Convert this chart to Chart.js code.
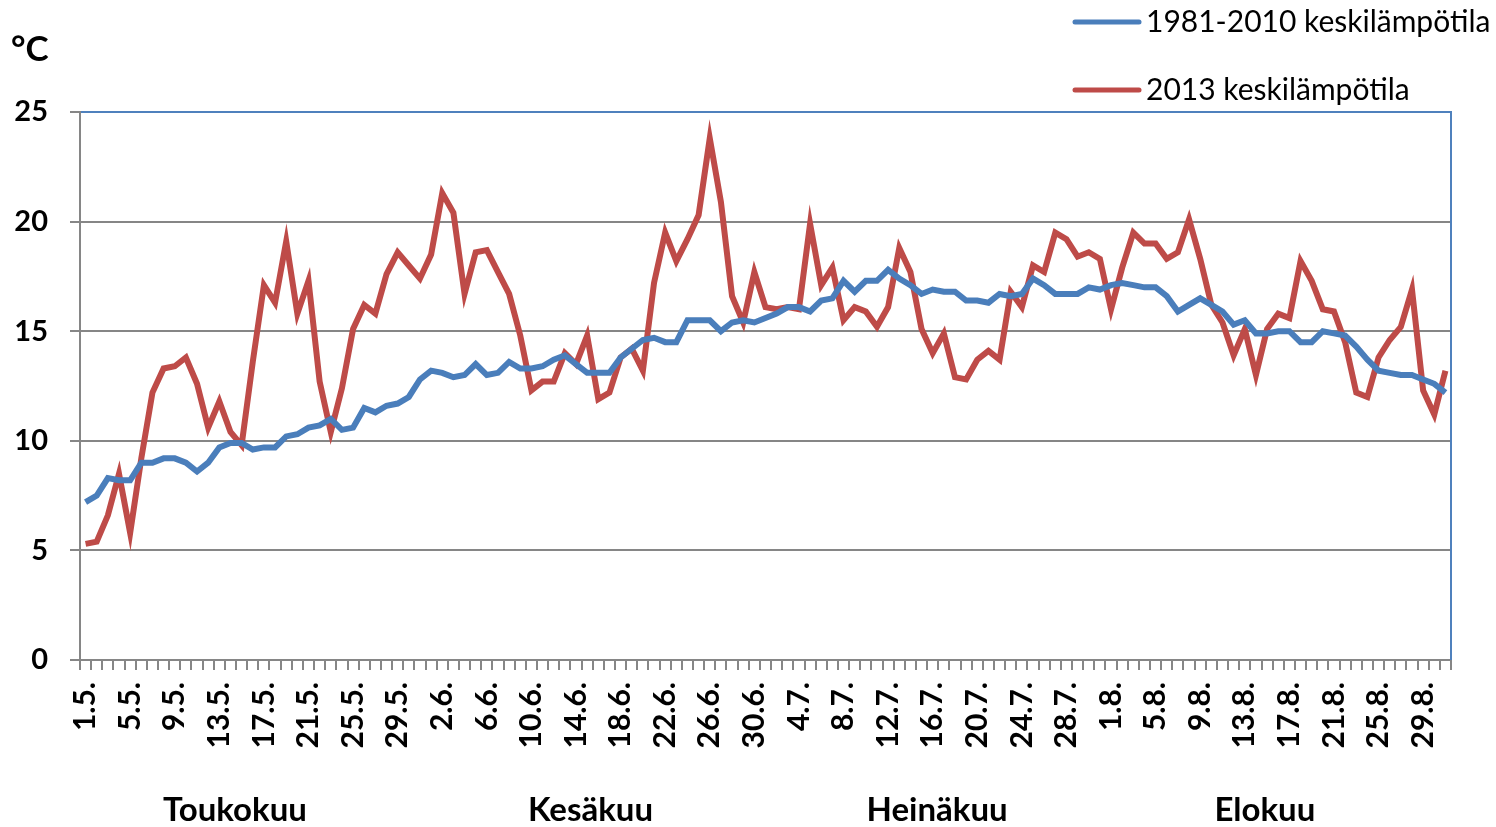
<!DOCTYPE html>
<html lang="fi">
<head>
<meta charset="UTF-8">
<title>Keskilämpötila touko-elokuu</title>
<script src="https://cdn.jsdelivr.net/npm/chart.js"></script>
<style>
  html, body { margin: 0; padding: 0; background: #fff; }
  #kehys { width: 1496px; height: 827px; position: relative; }
</style>
</head>
<body>
<div id="kehys"><canvas id="kaavio"></canvas></div>
<script>
// päivät 1.5. - 31.8.
const paivat = [
  '1.5.','2.5.','3.5.','4.5.','5.5.','6.5.','7.5.','8.5.','9.5.','10.5.','11.5.','12.5.','13.5.','14.5.','15.5.','16.5.',
  '17.5.','18.5.','19.5.','20.5.','21.5.','22.5.','23.5.','24.5.','25.5.','26.5.','27.5.','28.5.','29.5.','30.5.','31.5.',
  '1.6.','2.6.','3.6.','4.6.','5.6.','6.6.','7.6.','8.6.','9.6.','10.6.','11.6.','12.6.','13.6.','14.6.','15.6.',
  '16.6.','17.6.','18.6.','19.6.','20.6.','21.6.','22.6.','23.6.','24.6.','25.6.','26.6.','27.6.','28.6.','29.6.','30.6.',
  '1.7.','2.7.','3.7.','4.7.','5.7.','6.7.','7.7.','8.7.','9.7.','10.7.','11.7.','12.7.','13.7.','14.7.','15.7.','16.7.',
  '17.7.','18.7.','19.7.','20.7.','21.7.','22.7.','23.7.','24.7.','25.7.','26.7.','27.7.','28.7.','29.7.','30.7.','31.7.',
  '1.8.','2.8.','3.8.','4.8.','5.8.','6.8.','7.8.','8.8.','9.8.','10.8.','11.8.','12.8.','13.8.','14.8.','15.8.','16.8.',
  '17.8.','18.8.','19.8.','20.8.','21.8.','22.8.','23.8.','24.8.','25.8.','26.8.','27.8.','28.8.','29.8.','30.8.','31.8.'
];

const kuukaudet = ['Toukokuu', 'Kesäkuu', 'Heinäkuu', 'Elokuu'];

const sarjaNimet = ['1981-2010 keskilämpötila', '2013 keskilämpötila'];

const keski1981_2010 = [
  7.2, 7.5, 8.3, 8.2, 8.2, 9.0, 9.0, 9.2, 9.2, 9.0, 8.6, 9.0, 9.7, 9.9, 9.9, 9.6, 9.7, 9.7, 10.2, 10.3,
  10.6, 10.7, 11.0, 10.5, 10.6, 11.5, 11.3, 11.6, 11.7, 12.0, 12.8, 13.2, 13.1, 12.9, 13.0, 13.5, 13.0, 13.1, 13.6, 13.3,
  13.3, 13.4, 13.7, 13.9, 13.5, 13.1, 13.1, 13.1, 13.8, 14.2, 14.6, 14.7, 14.5, 14.5, 15.5, 15.5, 15.5, 15.0, 15.4, 15.5,
  15.4, 15.6, 15.8, 16.1, 16.1, 15.9, 16.4, 16.5, 17.3, 16.8, 17.3, 17.3, 17.8, 17.4, 17.1, 16.7, 16.9, 16.8, 16.8, 16.4,
  16.4, 16.3, 16.7, 16.6, 16.7, 17.4, 17.1, 16.7, 16.7, 16.7, 17.0, 16.9, 17.1, 17.2, 17.1, 17.0, 17.0, 16.6, 15.9, 16.2,
  16.5, 16.2, 15.9, 15.3, 15.5, 14.9, 14.9, 15.0, 15.0, 14.5, 14.5, 15.0, 14.9, 14.8, 14.3, 13.7, 13.2, 13.1, 13.0, 13.0,
  12.8, 12.6, 12.2
];

const keski2013 = [
  5.3, 5.4, 6.6, 8.5, 5.8, 9.2, 12.2, 13.3, 13.4, 13.8, 12.6, 10.6, 11.8, 10.4, 9.8, 13.6, 17.1, 16.3, 19.1, 15.8,
  17.3, 12.7, 10.4, 12.4, 15.1, 16.2, 15.8, 17.6, 18.6, 18.0, 17.4, 18.5, 21.3, 20.4, 16.7, 18.6, 18.7, 17.7, 16.7, 14.8,
  12.3, 12.7, 12.7, 14.0, 13.5, 14.8, 11.9, 12.2, 13.8, 14.2, 13.2, 17.2, 19.5, 18.2, 19.2, 20.3, 23.8, 20.9, 16.6, 15.4,
  17.7, 16.1, 16.0, 16.1, 16.0, 19.9, 17.1, 17.9, 15.5, 16.1, 15.9, 15.2, 16.1, 18.8, 17.7, 15.1, 14.0, 14.9, 12.9, 12.8,
  13.7, 14.1, 13.7, 16.8, 16.1, 18.0, 17.7, 19.5, 19.2, 18.4, 18.6, 18.3, 16.0, 17.9, 19.5, 19.0, 19.0, 18.3, 18.6, 20.1,
  18.3, 16.2, 15.4, 13.9, 15.1, 13.0, 15.1, 15.8, 15.6, 18.2, 17.3, 16.0, 15.9, 14.5, 12.2, 12.0, 13.8, 14.6, 15.2, 16.9,
  12.3, 11.2, 13.2
];

const FONTTI = 'Lato, "Open Sans", sans-serif';
const SININEN = '#4a7ebb';
const PUNAINEN = '#be4b48';
const HARMAA = '#868686';

// kuukausien nimet akselin alle, selite oikeaan yläkulmaan, °C vasemmalle ylös
const tekstit = {
  id: 'tekstit',
  afterDraw(chart) {
    const ctx = chart.ctx;
    const x = chart.scales.x;
    const alue = chart.chartArea;

    // oikea reuna sininen
    ctx.save();
    ctx.strokeStyle = '#4f81bd';
    ctx.lineWidth = 2;
    ctx.beginPath();
    ctx.moveTo(alue.right, alue.top - 1);
    ctx.lineTo(alue.right, alue.bottom);
    ctx.stroke();

    ctx.fillStyle = '#000';
    ctx.font = 'bold 35px ' + FONTTI;
    ctx.textAlign = 'left';
    ctx.textBaseline = 'middle';
    ctx.fillText('°C', 11, 50);

    const keskikohdat = [13.4, 45.3, 76.4, 105.8];
    ctx.font = 'bold 33px ' + FONTTI;
    ctx.textAlign = 'center';
    kuukaudet.forEach((nimi, i) => {
      ctx.fillText(nimi, x.getPixelForValue(keskikohdat[i]), 810);
    });

    ctx.font = '30px ' + FONTTI;
    ctx.textAlign = 'left';
    chart.data.datasets.forEach((ds, i) => {
      const y = 22 + i * 68;
      ctx.strokeStyle = ds.borderColor;
      ctx.lineWidth = 5;
      ctx.lineCap = 'round';
      ctx.beginPath();
      ctx.moveTo(1075, y);
      ctx.lineTo(1139, y);
      ctx.stroke();
      ctx.fillText(ds.label, 1146, y);
    });
    ctx.restore();
  }
};

new Chart(document.getElementById('kaavio'), {
  type: 'line',
  data: {
    labels: paivat,
    datasets: [
      {
        label: sarjaNimet[0],
        data: keski1981_2010,
        borderColor: SININEN,
        borderWidth: 6,
        pointRadius: 0,
        tension: 0,
        fill: false
      },
      {
        label: sarjaNimet[1],
        data: keski2013,
        borderColor: PUNAINEN,
        borderWidth: 6,
        pointRadius: 0,
        tension: 0,
        fill: false
      }
    ]
  },
  options: {
    responsive: true,
    maintainAspectRatio: false,
    animation: false,
    devicePixelRatio: 1,
    layout: { padding: { left: 0, top: 112, right: 45, bottom: 0 } },
    plugins: {
      legend: { display: false },
      tooltip: { enabled: false }
    },
    scales: {
      x: {
        type: 'category',
        offset: true,
        grid: {
          offset: true,
          drawOnChartArea: false,
          drawTicks: true,
          tickLength: 10,
          color: HARMAA,
          lineWidth: 2
        },
        border: { color: HARMAA, width: 2 },
        ticks: {
          autoSkip: false,
          maxRotation: 90,
          minRotation: 90,
          padding: 12,
          color: '#000',
          font: { family: FONTTI, size: 30, weight: 'bold' },
          callback: (v, i) => (i % 4 === 0 ? paivat[i] : '')
        },
        afterFit: (s) => { s.height = 167; }
      },
      y: {
        min: 0,
        max: 25,
        grid: {
          color: (c) => (c.tick && c.tick.value === 25 ? '#4f81bd' : HARMAA),
          tickColor: HARMAA,
          lineWidth: 2,
          tickLength: 10
        },
        border: { color: HARMAA, width: 2 },
        ticks: {
          stepSize: 5,
          padding: 22,
          color: '#000',
          font: { family: FONTTI, size: 29, weight: 'bold' }
        },
        afterFit: (s) => { s.width = 80; }
      }
    }
  },
  plugins: [tekstit]
});
</script>
</body>
</html>
